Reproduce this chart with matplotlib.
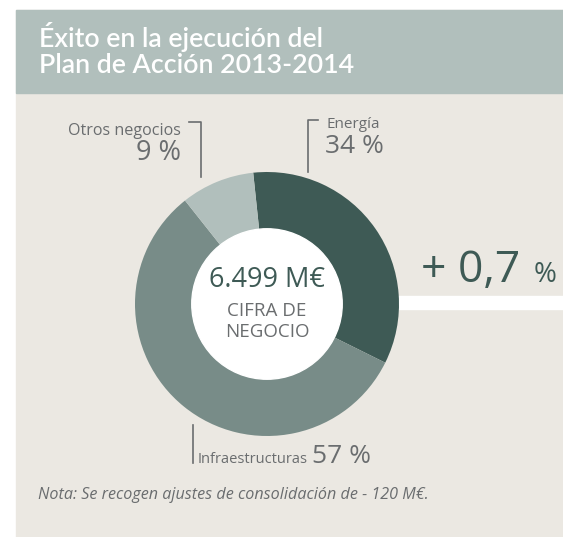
import matplotlib
matplotlib.use("Agg")
import matplotlib.pyplot as plt
from matplotlib.patches import Rectangle, Circle

# ---- data ----
categories = ["Energía", "Infraestructuras", "Otros negocios"]
shares = [34, 57, 9]
colors = ["#3e5a55", "#788c88", "#b1bfbc"]
title_lines = ["Éxito en la ejecución del", "Plan de Acción 2013-2014"]
total_text = "6.499 M€"
center_label = ["CIFRA DE", "NEGOCIO"]
growth_text = "+ 0,7"
note_text = "Nota: Se recogen ajustes de consolidación de - 120 M€."

W, H = 563, 537
BG = "#ebe8e2"
HEADER = "#b1bfbc"
GRAY = "#6a6d6f"
DARK = "#3e5a55"
FONT = "Open Sans"
TFONT = "Lato"

fig = plt.figure(figsize=(W / 100, H / 100), dpi=100)
fig.patch.set_facecolor("white")

base = fig.add_axes([0, 0, 1, 1])
base.set_xlim(0, W)
base.set_ylim(H, 0)
base.axis("off")

# panel and header
base.add_patch(Rectangle((16, 10), W - 16, H - 10, color=BG, zorder=0))
base.add_patch(Rectangle((16, 10), W - 16, 83, color=HEADER, zorder=1))
base.text(39, 47, title_lines[0], color="white", fontsize=19.3, family=TFONT,
          fontweight="semibold", va="baseline", ha="left")
base.text(39, 73, title_lines[1], color="white", fontsize=19.3, family=TFONT,
          fontweight="semibold", va="baseline", ha="left")

# white bar to the right
base.add_patch(Rectangle((390, 296), W - 390, 13, color="white", zorder=1))

# growth text
base.text(421, 282, growth_text, color=DARK, fontsize=32, family=FONT,
          va="baseline", ha="left")
base.text(534, 282, "%", color=DARK, fontsize=20, family=FONT,
          va="baseline", ha="left")

# Otros negocios label
lw = 1.2
base.plot([189, 201, 201], [122, 122, 177], color=GRAY, lw=lw)
base.text(181, 135, categories[2], color=GRAY, fontsize=11.6, family=FONT,
          ha="right", va="baseline")
base.text(181, 160, f"{shares[2]} %", color=GRAY, fontsize=19.5, family=FONT,
          ha="right", va="baseline")

# Energía label
base.plot([318, 308, 308], [120, 120, 172], color=GRAY, lw=lw)
base.text(326, 128, categories[0], color=GRAY, fontsize=11, family=FONT,
          ha="left", va="baseline")
base.text(325, 153, f"{shares[0]} %", color=GRAY, fontsize=19, family=FONT,
          ha="left", va="baseline")

# Infraestructuras label
base.plot([193, 193], [425, 463], color=GRAY, lw=lw)
base.text(198, 463, categories[1], color=GRAY, fontsize=10.5, family=FONT,
          ha="left", va="baseline")
base.text(312, 463, f"{shares[1]} %", color=GRAY, fontsize=19, family=FONT,
          ha="left", va="baseline")

# note
base.text(38, 499, note_text, color=GRAY, fontsize=11.6, family=FONT,
          style="italic", ha="left", va="baseline")

# donut
cx, cy, R = 267, 304, 132
pax = fig.add_axes([(cx - R) / W, (H - cy - R) / H, 2 * R / W, 2 * R / H])
pax.pie(shares, colors=colors, startangle=96, counterclock=False, radius=1,
        wedgeprops=dict(linewidth=0))
pax.add_patch(Circle((0, 0), 0.57, color="white", zorder=5))
pax.set_xlim(-1, 1)
pax.set_ylim(-1, 1)
pax.set_aspect("equal")
pax.axis("off")
pax.patch.set_alpha(0)

# overlay for centre texts
top = fig.add_axes([0, 0, 1, 1])
top.set_xlim(0, W)
top.set_ylim(H, 0)
top.axis("off")
top.patch.set_alpha(0)
top.text(cx, 287, total_text, color=DARK, fontsize=19.5, family=FONT,
         ha="center", va="baseline")
top.text(cx, 316, center_label[0], color=GRAY, fontsize=13.5, family=FONT,
         ha="center", va="baseline")
top.text(cx, 337, center_label[1], color=GRAY, fontsize=13.5, family=FONT,
         ha="center", va="baseline")

fig.savefig("out.png", dpi=100, facecolor="white")
